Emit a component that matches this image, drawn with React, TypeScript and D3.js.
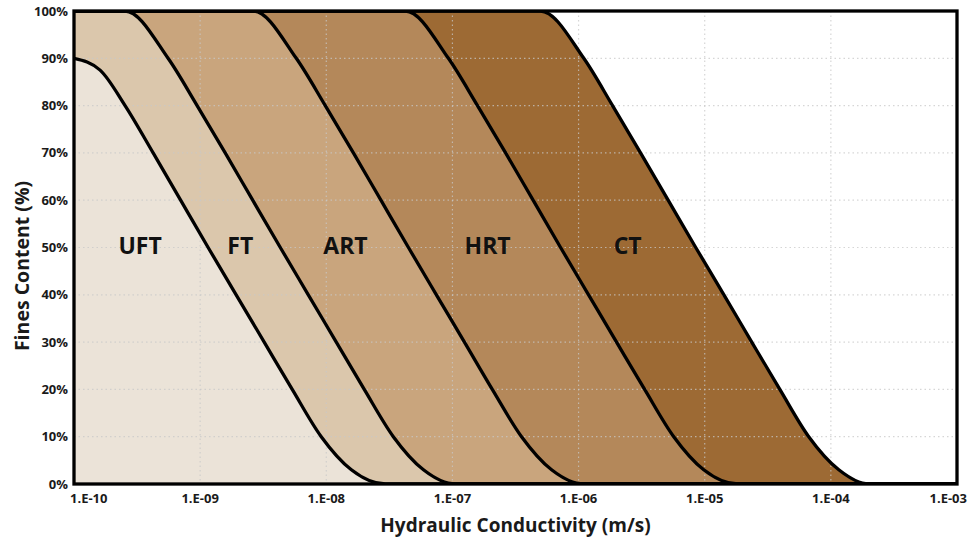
import React from "react";
import * as d3 from "d3";

// ---- data ----
const xTickValues = [1e-10, 1e-9, 1e-8, 1e-7, 1e-6, 1e-5, 1e-4, 1e-3];
const xTickLabels = ["1.E-10", "1.E-09", "1.E-08", "1.E-07", "1.E-06", "1.E-05", "1.E-04", "1.E-03"];
const yTickValues = [0, 10, 20, 30, 40, 50, 60, 70, 80, 90, 100];

// boundary curves: [hydraulic conductivity (m/s), fines content (%)]
const boundaryUFT_FT: [number, number][] = [
  [1e-10, 90], [1.61e-10, 87.5], [2.54e-10, 80], [4.24e-10, 70], [7.0e-10, 60], [1.157e-9, 50],
  [1.93e-9, 40], [3.22e-9, 30], [5.37e-9, 20], [9.12e-9, 10], [1.58e-8, 3], [2.94e-8, 0], [1e-3, 0],
];
const boundaryFT_ART: [number, number][] = [
  [1e-10, 100], [2.54e-10, 100], [5.57e-10, 90], [9.46e-10, 80], [1.58e-9, 70], [2.61e-9, 60],
  [4.32e-9, 50], [7.2e-9, 40], [1.2e-8, 30], [2.0e-8, 20], [3.4e-8, 10], [5.89e-8, 3], [1.06e-7, 0], [1e-3, 0],
];
const boundaryART_HRT: [number, number][] = [
  [1e-10, 100], [2.64e-9, 100], [5.78e-9, 90], [9.82e-9, 80], [1.64e-8, 70], [2.71e-8, 60],
  [4.48e-8, 50], [7.46e-8, 40], [1.245e-7, 30], [2.07e-7, 20], [3.53e-7, 10], [6.11e-7, 3], [1.1e-6, 0], [1e-3, 0],
];
const boundaryHRT_CT: [number, number][] = [
  [1e-10, 100], [4.24e-8, 100], [9.29e-8, 90], [1.58e-7, 80], [2.64e-7, 70], [4.36e-7, 60],
  [7.2e-7, 50], [1.2e-6, 40], [2.0e-6, 30], [3.34e-6, 20], [5.68e-6, 10], [9.82e-6, 3], [1.83e-5, 0], [1e-3, 0],
];
const boundaryCT: [number, number][] = [
  [1e-10, 100], [4.99e-7, 100], [1.1e-6, 90], [1.86e-6, 80], [3.1e-6, 70], [5.13e-6, 60],
  [8.49e-6, 50], [1.42e-5, 40], [2.36e-5, 30], [3.94e-5, 20], [6.68e-5, 10], [1.156e-4, 3], [2.0e-4, 0], [1e-3, 0],
];

const zoneNames = ["UFT", "FT", "ART", "HRT", "CT"];
const zoneLabelK = [3.34e-10, 2.08e-9, 1.42e-8, 1.9e-7, 2.45e-6];
const zoneLabelFines = 50;
const zoneColors = ["#ebe3d8", "#dbc7ac", "#c9a57d", "#b4885a", "#9d6a34"];

export default function App() {
  const W = 970, H = 539;
  const L = 74, R = 957, T = 11, B = 484;
  const x = d3.scaleLog().domain([1e-10, 1e-3]).range([L, R]);
  const y = d3.scaleLinear().domain([0, 100]).range([B, T]);

  const area = d3.area<[number, number]>()
    .x(d => x(d[0])).y0(y(0)).y1(d => y(d[1])).curve(d3.curveMonotoneX);
  const line = d3.line<[number, number]>()
    .x(d => x(d[0])).y(d => y(d[1])).curve(d3.curveMonotoneX);

  const boundaries = [boundaryUFT_FT, boundaryFT_ART, boundaryART_HRT, boundaryHRT_CT, boundaryCT];
  const font = "'Open Sans', 'DejaVu Sans', sans-serif";

  return (
    <svg width={W} height={H} style={{ position: "absolute", left: 0, top: 0, background: "#fff" }}>
      <defs>
        <clipPath id="plotClip">
          <rect x={L} y={T} width={R - L} height={B - T} />
        </clipPath>
      </defs>
      <rect x={L} y={T} width={R - L} height={B - T} fill="#fff" />
      <g clipPath="url(#plotClip)">
        {/* fills from outermost to innermost */}
        {boundaries.map((b, i) => ({ b, i })).reverse().map(({ b, i }) => (
          <path key={"a" + i} d={area(b) || ""} fill={zoneColors[i]} />
        ))}
        {/* grid */}
        <g stroke="#c8c8c8" strokeOpacity={0.75} strokeWidth={1.2} strokeDasharray="1.5,3">
          {xTickValues.slice(1, -1).map((v, i) => (
            <line key={"gx" + i} x1={x(v)} x2={x(v)} y1={T} y2={B} />
          ))}
          {yTickValues.slice(1, -1).map((v, i) => (
            <line key={"gy" + i} x1={L} x2={R} y1={y(v)} y2={y(v)} />
          ))}
        </g>
        {/* boundary lines */}
        {boundaries.map((b, i) => (
          <path key={"l" + i} d={line(b) || ""} fill="none" stroke="#000" strokeWidth={3.3} />
        ))}
      </g>
      {/* frame */}
      <rect x={L} y={T} width={R - L} height={B - T} fill="none" stroke="#000" strokeWidth={3.3} />
      {/* y tick labels */}
      {yTickValues.map((v, i) => (
        <text key={"yt" + i} x={L - 6} y={y(v)} dy="0.35em" textAnchor="end"
          fontFamily={font} fontWeight={700} fontSize={13} fill="#1a1a1a">{v + "%"}</text>
      ))}
      {/* x tick labels */}
      {xTickValues.map((v, i) => {
        const last = i === xTickValues.length - 1;
        const first = i === 0;
        const px = first ? x(v) - 4 : last ? x(v) + 10 : x(v);
        return (
          <text key={"xt" + i} x={px} y={503} textAnchor={first ? "start" : last ? "end" : "middle"}
            fontFamily={font} fontWeight={700} fontSize={13} fill="#1a1a1a">{xTickLabels[i]}</text>
        );
      })}
      {/* zone labels */}
      {zoneNames.map((n, i) => (
        <text key={"z" + i} x={x(zoneLabelK[i])} y={y(zoneLabelFines)} dy="0.3em" textAnchor="middle"
          fontFamily={font} fontWeight={700} fontSize={23} fill="#111">{n}</text>
      ))}
      {/* axis titles */}
      <text x={(L + R) / 2} y={532} textAnchor="middle" fontFamily={font} fontWeight={700}
        fontSize={19} fill="#1a1a1a">Hydraulic Conductivity (m/s)</text>
      <text transform={`translate(29,266) rotate(-90)`} textAnchor="middle" fontFamily={font}
        fontWeight={700} fontSize={19.5} fill="#1a1a1a">Fines Content (%)</text>
    </svg>
  );
}
